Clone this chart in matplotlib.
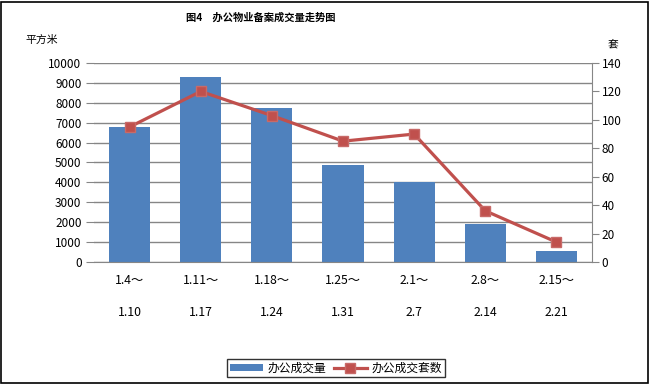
import matplotlib
matplotlib.use("Agg")
import matplotlib.pyplot as plt
from matplotlib.patches import Rectangle
import numpy as np

plt.rcParams['font.family'] = ['Noto Sans CJK SC', 'DejaVu Sans']

periods_start = ["1.4～", "1.11～", "1.18～", "1.25～", "2.1～", "2.8～", "2.15～"]
periods_end = ["1.10", "1.17", "1.24", "1.31", "2.7", "2.14", "2.21"]
area = [6780, 9310, 7740, 4870, 4000, 1910, 560]      # 平方米
units = [95, 120, 103, 85, 90, 36, 14]                # 套

bar_color = "#4F81BD"
line_color = "#C0504D"
grid_color = "#868686"

W, H = 651, 386
fig = plt.figure(figsize=(W / 100, H / 100), dpi=100)
fig.patch.set_facecolor("white")
fig.patches.append(Rectangle((1 / W, 3 / H), (W - 4) / W, (H - 5) / H,
                             transform=fig.transFigure, fill=False,
                             edgecolor="black", linewidth=1.2))

left, right, top, bottom = 94, 592, 63, 262
ax = fig.add_axes([left / W, 1 - bottom / H, (right - left) / W, (bottom - top) / H])
x = np.arange(len(area))
ax.bar(x, area, width=0.58, color=bar_color, zorder=2)
ax.set_xlim(-0.5, len(area) - 0.5)
ax.set_ylim(0, 10000)
ax.set_yticks(np.arange(0, 10001, 1000))
ax.yaxis.grid(True, color=grid_color, linewidth=1.0, zorder=0)
ax.set_axisbelow(True)
for s in ["left", "top", "right"]:
    ax.spines[s].set_visible(False)
ax.spines["bottom"].set_color(grid_color)
ax.tick_params(axis="y", length=6, color=grid_color, labelsize=8.5, pad=3)
ax.tick_params(axis="x", length=0, labelsize=8.8, pad=9)
ax.set_xticks(x)
ax.set_xticklabels([f"{a}\n\n{b}" for a, b in zip(periods_start, periods_end)],
                   linespacing=1.29)

ax2 = ax.twinx()
ax2.plot(x, units, color=line_color, linewidth=2.3, marker="s", markersize=7,
         markerfacecolor=line_color, markeredgecolor="#C86A68", zorder=3)
ax2.set_ylim(0, 140)
ax2.set_yticks(np.arange(0, 141, 20))
for s in ["left", "top", "bottom"]:
    ax2.spines[s].set_visible(False)
ax2.spines["right"].set_color(grid_color)
ax2.tick_params(axis="y", length=5, color=grid_color, labelsize=8.5, pad=2)

fig.text(261 / W, 1 - 18 / H, "图4　办公物业备案成交量走势图", fontsize=7.4, fontweight="bold",
         ha="center", va="center")
fig.text(25 / W, 1 - 40 / H, "平方米", fontsize=7.8, ha="left", va="center")
fig.text(613 / W, 1 - 44 / H, "套", fontsize=7.8, ha="center", va="center")

handles = [ax.patches[0], ax2.lines[0]]
leg = fig.legend(handles, ["办公成交量", "办公成交套数"], loc="center",
                 bbox_to_anchor=(336 / W, 1 - 368 / H), ncol=2, frameon=True,
                 fontsize=8.5, fancybox=False, edgecolor="black", handlelength=2.8,
                 handleheight=0.5, columnspacing=0.6, handletextpad=0.4,
                 borderpad=0.25, borderaxespad=0)
leg.get_frame().set_linewidth(1.0)

fig.savefig("out.png", dpi=100)
